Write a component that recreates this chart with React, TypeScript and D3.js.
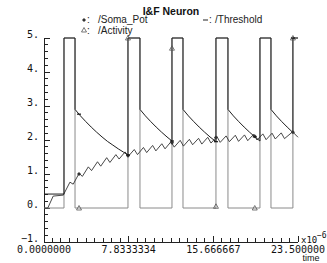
import React from 'react'
import * as d3 from 'd3'

// time axis ticks (x10^-?)
const xTickLabels = ['0.0000000', '7.8333334', '15.666667', '23.500000']
const xMajor = [0, 7.8333334, 15.666667, 23.5]
const yTickValues = [5, 4, 3, 2, 1, 0, -1]
const yTickLabels = ['5.', '4.', '3.', '2.', '1.', '0.', '\u22121.']

// /Activity : spike output, 0 or 5
const activity: [number, number][] = [
  [0, 0], [1.85, 0], [1.85, 5], [2.87, 5], [2.87, 0], [7.77, 0], [7.77, 5], [8.88, 5],
  [8.88, 0], [11.84, 0], [11.84, 5], [12.86, 5], [12.86, 0], [15.91, 0], [15.91, 5],
  [17.02, 5], [17.02, 0], [19.98, 0], [19.98, 5], [21.0, 5], [21.0, 0], [23.03, 0],
  [23.03, 5], [23.5, 5],
]

// /Threshold : jumps at spike, decays afterwards
const threshold: [number, number][] = [
  [0, 0.41], [1.85, 0.41], [1.85, 5], [2.87, 5], [2.87, 2.9], [3.37, 2.71], [3.87, 2.54],
  [4.37, 2.38], [4.87, 2.23], [5.37, 2.09], [5.87, 1.96], [6.37, 1.85], [6.87, 1.74],
  [7.37, 1.64], [7.77, 1.56], [7.77, 5], [8.88, 5], [8.88, 2.9], [9.38, 2.71], [9.88, 2.54],
  [10.38, 2.38], [10.88, 2.23], [11.38, 2.09], [11.84, 1.97], [11.84, 5], [12.86, 5],
  [12.86, 2.9], [13.36, 2.71], [13.86, 2.54], [14.36, 2.38], [14.86, 2.23], [15.36, 2.09],
  [15.91, 1.95], [15.91, 5], [17.02, 5], [17.02, 2.9], [17.52, 2.71], [18.02, 2.54],
  [18.52, 2.38], [19.02, 2.23], [19.52, 2.09], [19.98, 1.97], [19.98, 5], [21.0, 5],
  [21.0, 2.9], [21.5, 2.71], [22.0, 2.54], [22.5, 2.38], [23.03, 2.22], [23.03, 5], [23.5, 5],
]

// /Soma_Pot : charging zigzag
const somaPot: [number, number][] = [
  [0, 0], [0.35, 0], [0.85, 0.35], [1.8, 0.38], [1.85, 0.42], [2.4, 0.76], [2.7, 0.7],
  [3.25, 1.02], [3.55, 0.93], [4.1, 1.21], [4.4, 1.1], [4.95, 1.36], [5.25, 1.23],
  [5.8, 1.48], [6.1, 1.34], [6.65, 1.57], [6.95, 1.44], [7.5, 1.65], [7.8, 1.52],
  [8.35, 1.72], [8.65, 1.57], [9.2, 1.78], [9.5, 1.63], [10.05, 1.84], [10.35, 1.68],
  [10.9, 1.89], [11.2, 1.74], [11.75, 1.95], [12.05, 1.79], [12.6, 1.99], [12.9, 1.82],
  [13.45, 2.02], [13.75, 1.86], [14.3, 2.05], [14.6, 1.88], [15.15, 2.08], [15.45, 1.91],
  [16.0, 2.1], [16.3, 1.93], [16.85, 2.12], [17.15, 1.95], [17.7, 2.14], [18.0, 1.96],
  [18.55, 2.15], [18.85, 1.98], [19.4, 2.17], [19.7, 2.0], [20.25, 2.18], [20.55, 2.01],
  [21.1, 2.2], [21.4, 2.03], [21.95, 2.21], [22.25, 2.04], [23.0, 2.24], [23.5, 2.08],
]

// sparse point markers drawn by the graph
const activityMarks: [number, number][] = [[3.24, 0], [7.77, 5], [11.84, 4.7], [15.91, 0.05], [19.5, 0], [23.03, 5]]
const somaMarks: [number, number][] = [[3.24, 1.0], [7.77, 1.54], [11.84, 1.92], [15.91, 2.07], [19.5, 2.11], [23.03, 2.23]]
const threshMarks: [number, number][] = [[3.24, 2.76], [7.77, 1.56], [11.84, 1.97], [15.91, 1.95], [19.5, 2.09], [23.03, 5]]

const W = 327
const H = 263
const mono = '"DejaVu Sans Mono", monospace'
const sans = '"Liberation Sans", Arial, sans-serif'

const tri = (x: number, y: number) => `M${x},${y - 2.5}L${x + 2.5},${y + 2}L${x - 2.5},${y + 2}Z`
const diamond = (x: number, y: number) => `M${x},${y - 2}L${x + 2},${y}L${x},${y + 2}L${x - 2},${y}Z`

export default function App() {
  const x = d3.scaleLinear().domain([0, 23.5]).range([44, 298])
  const y = d3.scaleLinear().domain([-1, 5]).range([242, 38])
  const line = d3
    .line<[number, number]>()
    .x((d) => x(d[0]))
    .y((d) => y(d[1]))

  const yMinor = d3.range(0, 31).map((i) => -1 + i * 0.2)
  const xMinor = d3.range(0, 31).map((i) => (i * 23.5) / 30)

  return (
    <svg width={W} height={H} style={{ position: 'absolute', left: 0, top: 0, background: '#fff' }}>
      <text x={171} y={15} textAnchor="middle" fontFamily={sans} fontWeight="bold" fontSize={10.5} fill="#111">
        I&amp;F Neuron
      </text>

      {/* legend */}
      <g fontFamily={sans} fontSize={10} fill="#222">
        <path d={diamond(84, 20)} fill="#333" />
        <text x={87} y={23}>:</text>
        <text x={98} y={23}>/Soma_Pot</text>
        <path d={tri(84, 30)} fill="none" stroke="#555" strokeWidth={0.8} />
        <text x={87} y={33.5}>:</text>
        <text x={98} y={33.5}>/Activity</text>
        <line x1={203} x2={208} y1={20} y2={20} stroke="#222" />
        <text x={209} y={23}>:</text>
        <text x={215} y={23}>/Threshold</text>
      </g>

      {/* axes */}
      <g stroke="#222" strokeWidth={1} shapeRendering="crispEdges">
        <line x1={44} x2={44} y1={y(5)} y2={y(-1)} />
        <line x1={44} x2={298} y1={y(-1)} y2={y(-1)} />
        {yMinor.map((v, i) => (
          <line key={'yt' + i} x1={44} x2={i % 5 === 0 ? 50 : 48} y1={y(v)} y2={y(v)} />
        ))}
        {xMinor.map((v, i) => (
          <line key={'xt' + i} x1={x(v)} x2={x(v)} y1={242} y2={i % 10 === 0 ? 236 : 238} />
        ))}
      </g>
      <g fontFamily={mono} fontSize={10} fill="#111">
        {yTickValues.map((v, i) => (
          <text key={'yl' + i} x={39} y={y(v)} textAnchor="end">
            {yTickLabels[i]}
          </text>
        ))}
        {xMajor.map((v, i) => (
          <text key={'xl' + i} x={x(v)} y={252.5} textAnchor="middle">
            {xTickLabels[i]}
          </text>
        ))}
        <text x={301} y={243} fontSize={9}>x10</text>
        <text x={317} y={237.5} fontSize={8}>{'\u22126'}</text>
        <text x={311} y={261} textAnchor="middle" fontFamily={sans} fontSize={9}>time</text>
      </g>

      {/* series */}
      <path d={line(activity) || ''} fill="none" stroke="#8a8a8a" strokeWidth={1} />
      <path d={line(somaPot) || ''} fill="none" stroke="#333" strokeWidth={0.9} />
      <path d={line(threshold) || ''} fill="none" stroke="#1e1e1e" strokeWidth={1} />

      {activityMarks.map((d, i) => (
        <path key={'am' + i} d={tri(x(d[0]), y(d[1]))} fill="none" stroke="#555" strokeWidth={0.8} />
      ))}
      {somaMarks.map((d, i) => (
        <path key={'sm' + i} d={diamond(x(d[0]), y(d[1]))} fill="#333" />
      ))}
      {threshMarks.map((d, i) => (
        <line key={'tm' + i} x1={x(d[0]) - 2} x2={x(d[0]) + 2} y1={y(d[1])} y2={y(d[1])} stroke="#111" strokeWidth={1.2} />
      ))}
    </svg>
  )
}
